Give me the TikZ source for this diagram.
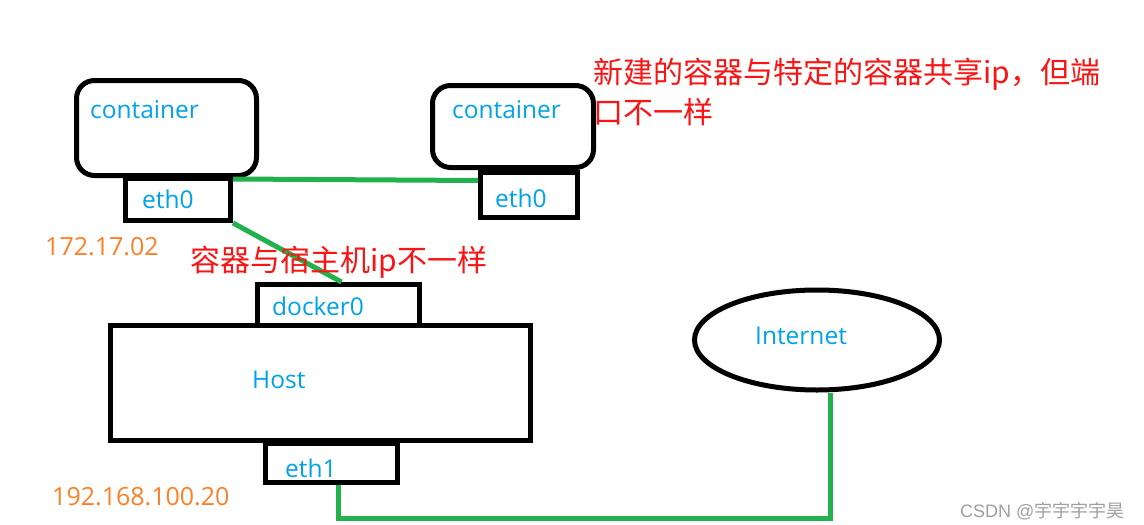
\documentclass[tikz,border=0pt]{standalone}
\usepackage{fontspec}
\setmainfont{Open Sans}
\newfontfamily\cjk{Noto Sans CJK SC}
\newfontfamily\wmfont{Liberation Sans}
\usetikzlibrary{shapes.geometric}
\definecolor{paintblue}{RGB}{0,162,232}
\definecolor{paintorange}{RGB}{255,127,39}
\definecolor{paintgreen}{RGB}{34,177,76}
\definecolor{paintred}{RGB}{250,20,20}
\begin{document}
\begin{tikzpicture}[x=1pt,y=-1pt,
  box/.style={draw, line width=5pt, inner sep=0pt},
  lbl/.style={inner sep=0pt, anchor=base west, text=paintblue, font=\fontsize{24.5}{29}\selectfont},
  addr/.style={inner sep=0pt, anchor=base west, text=paintorange, font=\fontsize{25}{30}\selectfont},
  note/.style={inner sep=0pt, anchor=base west, text=paintred, font=\cjk\fontsize{30}{40}\selectfont},
  wire/.style={paintgreen, line width=5pt}]
  \useasboundingbox[fill=white] (0,0) rectangle (1144,525);
  % Containers
  \node[box, rounded corners=18pt, minimum width=180pt, minimum height=95pt] (cont1) at (166.5,128) {};
  \node[box, rounded corners=18pt, minimum width=161pt, minimum height=82pt] (cont2) at (513,126.5) {};
  \node[box, minimum width=105pt, minimum height=42pt] (eth0a) at (178,199.5) {};
  \node[box, minimum width=97pt, minimum height=45pt] (eth0b) at (529,195) {};
  \node[lbl] (cont1txt) at (90,118) {container};
  \node[lbl] (cont2txt) at (452,118) {container};
  \node[lbl] (eth0atxt) at (142,208) {eth0};
  \node[lbl] (eth0btxt) at (495,207) {eth0};
  % Host
  \node[box, minimum width=420pt, minimum height=115pt] (host) at (320.5,383) {};
  \node[box, minimum width=162pt, minimum height=41pt] (docker0) at (338.5,305) {};
  \node[box, minimum width=132pt, minimum height=39pt] (eth1) at (331.5,463) {};
  \node[lbl] (hosttxt) at (252,388) {Host};
  \node[lbl] (docker0txt) at (272,315) {docker0};
  \node[lbl] (eth1txt) at (285,477) {eth1};
  % Internet
  \node[box, ellipse, minimum width=245pt, minimum height=100pt] (inet) at (817,340) {};
  \node[lbl] (inettxt) at (755,344) {Internet};
  % Links
  \draw[wire] ([yshift=-3pt]eth0a.north east) -- ([yshift=-10.5pt]eth0b.north west);
  \draw[wire] (eth0a.south east) -- ([xshift=3pt]docker0.north);
  \draw[wire] ([xshift=7pt]eth1.south) -- ++(0,33) -| ([xshift=13pt]inet.south);
  % Addresses and notes
  \node[addr] (ipcont) at (45,255) {172.17.02};
  \node[addr] (iphost) at (52,505) {192.168.100.20};
  \node[note] (hostnote) at (190,271) {容器与宿主机ip不一样};
  \node[note, align=left] (sharenote) at (593,123) {新建的容器与特定的容器共享ip，但端\\口不一样};
  \node[inner sep=0pt, anchor=base west, text=gray!75, font=\fontsize{18}{20}\selectfont] (mark) at (960,517) {\wmfont CSDN @\cjk 宇宇宇宇昊};
\end{tikzpicture}
\end{document}
